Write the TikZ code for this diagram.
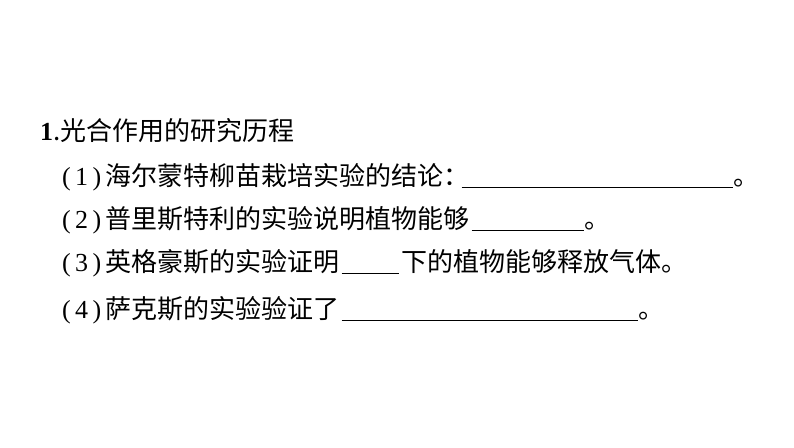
\documentclass[tikz,border=0pt]{standalone}
\usepackage{fontspec}
\setmainfont{Noto Sans CJK SC}
\newfontfamily\numfont{Liberation Serif}
\usetikzlibrary{positioning}
\tikzset{txt/.style={anchor=base west, inner sep=0pt, font=\fontsize{26}{30}\selectfont},
  blank/.style={line width=0.8pt}}
\newcommand{\qno}[1]{{\numfont(\,#1\,)}\,}
\begin{document}
\begin{tikzpicture}[x=1pt,y=-1pt]
\useasboundingbox[fill=white] (0,0) rectangle (794,447);
\node[txt] (h) at (40,140) {{\numfont\textbf{1}}.光合作用的研究历程};
% (1)
\node[txt] (a1) at (62,185) {\qno{1}海尔蒙特柳苗栽培实验的结论：};
\node[txt] (a2) at (733,185) {。};
\draw[blank] ([xshift=-8pt,yshift=-2pt]a1.base east) -- ([yshift=-2pt]a2.base west);
% (2)
\node[txt] (b1) at (62,228) {\qno{2}普里斯特利的实验说明植物能够};
\node[txt] (b2) at (584,228) {。};
\draw[blank] ([xshift=2pt,yshift=-2pt]b1.base east) -- ([yshift=-2pt]b2.base west);
% (3)
\node[txt] (c1) at (62,271) {\qno{3}英格豪斯的实验证明};
\node[txt] (c2) at (401,271) {下的植物能够释放气体。};
\draw[blank] ([xshift=2pt,yshift=-2pt]c1.base east) -- ([xshift=-2pt,yshift=-2pt]c2.base west);
% (4)
\node[txt] (d1) at (62,318) {\qno{4}萨克斯的实验验证了};
\node[txt] (d2) at (638,318) {。};
\draw[blank] ([xshift=2pt,yshift=-2pt]d1.base east) -- ([yshift=-2pt]d2.base west);
\end{tikzpicture}
\end{document}
